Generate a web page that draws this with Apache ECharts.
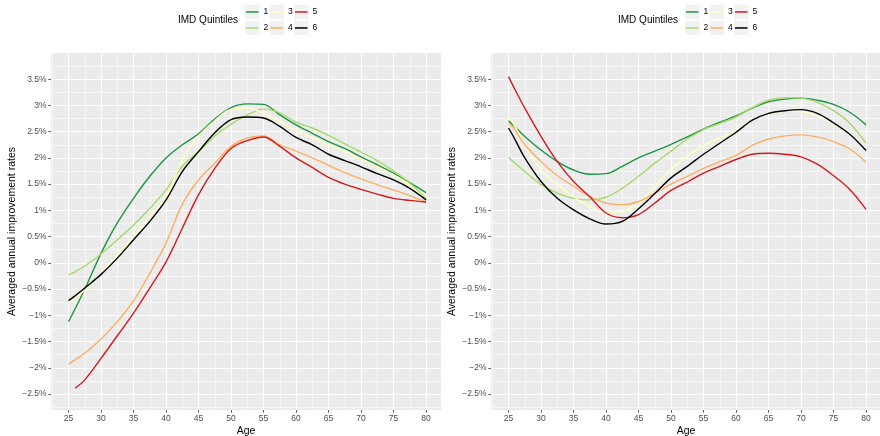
<!DOCTYPE html>
<html>
<head>
<meta charset="utf-8">
<script src="https://cdn.jsdelivr.net/npm/echarts@6/dist/echarts.min.js"></script>
<style>
html,body{margin:0;padding:0;background:#fff;}
#chart{width:880px;height:436px;}
</style>
</head>
<body>
<div id="chart"></div>
<script>
// ---- data ----
const ages = [25, 26, 27.5, 30, 32.5, 35, 37.5, 40, 42.5, 45, 47.5, 50, 52.5, 55, 57.5, 60, 62.5, 65, 67.5, 70, 72.5, 75, 77.5, 80];
const quintiles = ['1', '2', '3', '4', '5', '6'];

// left panel
const left1 = [-1.12, -0.88, -0.50, 0.18, 0.76, 1.23, 1.65, 2.00, 2.25, 2.46, 2.74, 2.96, 3.03, 3.02, 2.82, 2.63, 2.47, 2.31, 2.18, 2.02, 1.87, 1.71, 1.53, 1.34];
const left2 = [-0.23, -0.17, -0.06, 0.17, 0.44, 0.72, 1.04, 1.39, 1.84, 2.12, 2.42, 2.64, 2.82, 2.93, 2.86, 2.68, 2.57, 2.43, 2.27, 2.11, 1.95, 1.75, 1.52, 1.22];
const left3 = [-0.75, -0.67, -0.52, -0.20, 0.15, 0.50, 0.88, 1.26, 1.96, 2.42, 2.71, 2.93, 2.95, 2.85, 2.70, 2.52, 2.39, 2.25, 2.12, 1.98, 1.83, 1.68, 1.48, 1.20];
const left4 = [-1.93, -1.85, -1.72, -1.45, -1.12, -0.72, -0.20, 0.38, 1.12, 1.58, 1.90, 2.22, 2.38, 2.42, 2.25, 2.13, 2.00, 1.86, 1.72, 1.60, 1.49, 1.39, 1.28, 1.16];
const left5 = [null, -2.39, -2.23, -1.82, -1.39, -0.96, -0.48, 0.02, 0.66, 1.30, 1.80, 2.18, 2.33, 2.40, 2.22, 2.00, 1.82, 1.63, 1.50, 1.40, 1.31, 1.23, 1.19, 1.16];
const left6 = [-0.72, -0.63, -0.48, -0.22, 0.09, 0.44, 0.79, 1.20, 1.74, 2.12, 2.48, 2.73, 2.78, 2.76, 2.60, 2.39, 2.25, 2.07, 1.95, 1.83, 1.70, 1.58, 1.42, 1.20];

// right panel
const right1 = [2.71, 2.59, 2.41, 2.15, 1.93, 1.77, 1.69, 1.70, 1.84, 2.00, 2.13, 2.26, 2.40, 2.55, 2.68, 2.80, 2.95, 3.07, 3.12, 3.14, 3.10, 3.02, 2.87, 2.63];
const right2 = [2.01, 1.90, 1.74, 1.49, 1.33, 1.23, 1.20, 1.25, 1.42, 1.65, 1.90, 2.13, 2.36, 2.54, 2.66, 2.78, 2.96, 3.10, 3.15, 3.14, 3.06, 2.90, 2.66, 2.28];
const right3 = [2.78, 2.60, 2.24, 1.77, 1.49, 1.26, 1.07, 0.96, 0.98, 1.14, 1.46, 1.78, 2.03, 2.24, 2.38, 2.52, 2.72, 2.86, 2.90, 2.89, 2.80, 2.66, 2.47, 2.15];
const right4 = [2.66, 2.53, 2.25, 1.93, 1.66, 1.46, 1.26, 1.14, 1.11, 1.17, 1.33, 1.50, 1.65, 1.80, 1.93, 2.05, 2.24, 2.36, 2.42, 2.44, 2.40, 2.31, 2.17, 1.92];
const right5 = [3.55, 3.30, 2.95, 2.41, 1.93, 1.55, 1.26, 0.95, 0.86, 0.92, 1.14, 1.38, 1.54, 1.71, 1.84, 1.97, 2.07, 2.09, 2.07, 2.02, 1.88, 1.66, 1.40, 1.02];
const right6 = [2.57, 2.35, 2.00, 1.55, 1.23, 1.01, 0.84, 0.74, 0.79, 1.03, 1.32, 1.62, 1.84, 2.07, 2.28, 2.49, 2.72, 2.85, 2.90, 2.92, 2.85, 2.67, 2.45, 2.14];

// ticks
const xTicks = [25, 30, 35, 40, 45, 50, 55, 60, 65, 70, 75, 80];
const xMinor = [22.5, 27.5, 32.5, 37.5, 42.5, 47.5, 52.5, 57.5, 62.5, 67.5, 72.5, 77.5, 82.5];
const yTicks = [-2.5, -2, -1.5, -1, -0.5, 0, 0.5, 1, 1.5, 2, 2.5, 3, 3.5];
const yMinor = [-2.75, -2.25, -1.75, -1.25, -0.75, -0.25, 0.25, 0.75, 1.25, 1.75, 2.25, 2.75, 3.25, 3.75];

const legendTitle = 'IMD Quintiles';
const xTitle = 'Age';
const yTitle = 'Averaged annual improvement rates';

// ---- styling / layout ----
const colors = ['#1A9641', '#A6D96A', '#FFFFBF', '#FDAE61', '#D7191C', '#000000'];
const FONT = '"Liberation Sans", Arial, Helvetica, sans-serif';
const XMIN = 22.3, XMAX = 82.3, YMIN = -2.805, YMAX = 4.0;
const panels = [
  { left: 51, data: [left1, left2, left3, left4, left5, left6] },
  { left: 491, data: [right1, right2, right3, right4, right5, right6] }
];
const PANEL_TOP = 53, PANEL_W = 390, PANEL_H = 357;

const grids = [], xAxes = [], yAxes = [], series = [], legends = [], titles = [], graphics = [];

function pct(v) {
  const a = Math.abs(v);
  return (v < 0 ? '\u2212' : '') + a + '%';
}

panels.forEach((p, pi) => {
  grids.push({
    left: p.left, top: PANEL_TOP, width: PANEL_W, height: PANEL_H,
    show: true, backgroundColor: '#EBEBEB', borderWidth: 0, containLabel: false,
    outerBoundsMode: 'none'
  });
  // minor axes (grid lines only)
  xAxes.push({
    type: 'value', gridIndex: pi, min: XMIN, max: XMAX, position: 'bottom',
    axisLine: { show: false, onZero: false }, axisLabel: { show: false },
    axisTick: { show: false, customValues: xMinor },
    splitLine: { show: true, lineStyle: { color: '#FFFFFF', width: 0.55 } }
  });
  yAxes.push({
    type: 'value', gridIndex: pi, min: YMIN, max: YMAX, position: 'left',
    axisLine: { show: false, onZero: false }, axisLabel: { show: false },
    axisTick: { show: false, customValues: yMinor },
    splitLine: { show: true, lineStyle: { color: '#FFFFFF', width: 0.55 } }
  });
  // major axes
  xAxes.push({
    type: 'value', gridIndex: pi, min: XMIN, max: XMAX, position: 'bottom',
    axisLine: { show: false, onZero: false },
    axisTick: { show: true, customValues: xTicks, length: 2.7, lineStyle: { color: '#333333', width: 0.8 } },
    axisLabel: { customValues: xTicks, color: '#4D4D4D', fontSize: 8.5, margin: 4.5, fontFamily: FONT },
    splitLine: { show: true, lineStyle: { color: '#FFFFFF', width: 1.1 } },
    name: xTitle, nameLocation: 'middle', nameGap: 16, nameMoveOverlap: false,
    nameTextStyle: { color: '#000', fontSize: 10.5, fontFamily: FONT, verticalAlign: 'top' }
  });
  yAxes.push({
    type: 'value', gridIndex: pi, min: YMIN, max: YMAX, position: 'left',
    axisLine: { show: false, onZero: false },
    axisTick: { show: true, customValues: yTicks, length: 2.7, lineStyle: { color: '#333333', width: 0.8 } },
    axisLabel: { customValues: yTicks, color: '#4D4D4D', fontSize: 8.5, margin: 4.5, fontFamily: FONT, formatter: pct },
    splitLine: { show: true, lineStyle: { color: '#FFFFFF', width: 1.1 } },
    name: yTitle, nameLocation: 'middle', nameGap: 33,
    nameTextStyle: { color: '#000', fontSize: 10.5, fontFamily: FONT }
  });
  const xi = pi * 2 + 1, yi = pi * 2 + 1;
  p.data.forEach((vals, si) => {
    series.push({
      name: quintiles[si], type: 'line', xAxisIndex: xi, yAxisIndex: yi,
      data: ages.map((a, k) => [a, vals[k]]),
      showSymbol: false, smooth: 0.35, connectNulls: false,
      lineStyle: { color: colors[si], width: 1.4 }, itemStyle: { color: colors[si] },
      z: 3 + si
    });
  });
  const off = p.left - 51;
  titles.push({
    text: legendTitle, left: 178 + off, top: 15.5, padding: 0,
    textStyle: { fontSize: 10, fontWeight: 'normal', color: '#000', fontFamily: FONT }
  });
  const colX = [245, 269.5, 294];
  const rowY = [4.7, 20.7];
  quintiles.forEach((q, qi) => {
    const c = Math.floor(qi / 2), r = qi % 2;
    graphics.push({
      type: 'rect', left: colX[c] + off, top: rowY[r], z: -1, silent: true,
      shape: { width: 14.5, height: 14.5 }, style: { fill: '#F2F2F2' }
    });
    legends.push({
      data: [q], left: colX[c] + off + 1, top: rowY[r] + 7.25 - 5, padding: 0,
      icon: 'rect', itemWidth: 12.5, itemHeight: 1.5, itemGap: 0,
      selectedMode: false,
      textStyle: { fontSize: 8.5, color: '#000', fontFamily: FONT, lineHeight: 10 }
    });
  });
});

const chart = echarts.init(document.getElementById('chart'), null, { renderer: 'canvas' });
chart.setOption({
  animation: false,
  backgroundColor: '#FFFFFF',
  textStyle: { fontFamily: FONT },
  title: titles,
  legend: legends,
  grid: grids,
  xAxis: xAxes,
  yAxis: yAxes,
  series: series,
  graphic: graphics
});
</script>
</body>
</html>
